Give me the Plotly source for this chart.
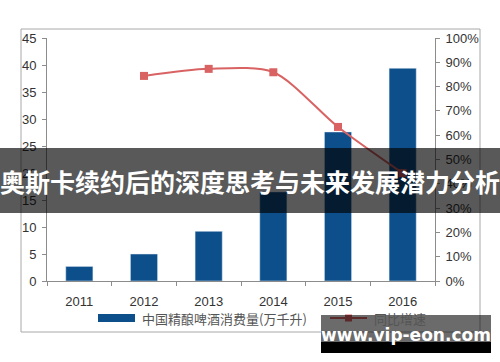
import plotly.graph_objects as go

years = ["2011", "2012", "2013", "2014", "2015", "2016"]
consumption = [2.7, 5.0, 9.2, 16.5, 27.6, 39.4]          # 万千升
growth_years = ["2012", "2013", "2014", "2015", "2016"]
growth = [0.844, 0.873, 0.859, 0.634, 0.444]            # 同比增速

bar_name = "中国精酿啤酒消费量(万千升)"
line_name = "同比增速"
title_text = "奥斯卡续约后的深度思考与未来发展潜力分析"
watermark = "www.vip-eon.com"

W, H = 500, 362
L, R, T, B = 47, 65, 38, 81
PW, PH = W - L - R, H - T - B


def px(x):
    return (x - L) / PW


def py(y):
    return (H - B - y) / PH


BAR = "#0d4f8b"
LINE = "#d96262"
FONT = "Liberation Sans, Arial, Noto Sans CJK SC"

fig = go.Figure()
fig.add_trace(go.Bar(x=years, y=consumption, marker_color=BAR, width=0.42,
                     name=bar_name, showlegend=False))
fig.add_trace(go.Scatter(x=growth_years, y=growth, yaxis="y2", mode="lines+markers",
                         line=dict(color=LINE, width=2, shape="spline", smoothing=0.8),
                         marker=dict(symbol="square", size=8, color=LINE),
                         name=line_name, showlegend=False))

axis_common = dict(showline=True, linecolor="#8c8c8c", linewidth=1, ticks="outside",
                   ticklen=4, tickcolor="#8c8c8c", showgrid=False, zeroline=False,
                   tickfont=dict(family=FONT, size=13, color="#333333"))

fig.update_layout(
    width=W, height=H, margin=dict(l=L, r=R, t=T, b=B),
    paper_bgcolor="white", plot_bgcolor="white",
    xaxis=dict(**axis_common, type="category", range=[-0.5, 5.5], tickson="boundaries",
               ticklabelstandoff=8),
    yaxis=dict(**axis_common, range=[0, 45], dtick=5, ticklabelstandoff=3),
    yaxis2=dict(**axis_common, range=[0, 1], dtick=0.1, tickformat=".0%",
                overlaying="y", side="right", ticklabelstandoff=3),
    showlegend=False,
)

shapes = []
annotations = []

# outer frame
shapes.append(dict(type="rect", xref="paper", yref="paper",
                   x0=px(21), x1=px(480), y0=py(332), y1=py(29),
                   line=dict(color="#a8a8a8", width=1), layer="below"))

# legend: bar swatch + text
shapes.append(dict(type="rect", xref="paper", yref="paper",
                   x0=px(98), x1=px(135), y0=py(322), y1=py(314),
                   fillcolor=BAR, line=dict(width=0)))
annotations.append(dict(text=bar_name, xref="paper", yref="paper", x=px(140), y=py(318),
                        xanchor="left", yanchor="middle", showarrow=False,
                        font=dict(family="Noto Sans CJK SC", size=13, color="#555555")))
# legend: line swatch + text
shapes.append(dict(type="line", xref="paper", yref="paper",
                   x0=px(330), x1=px(367), y0=py(318), y1=py(318),
                   line=dict(color=LINE, width=2)))
shapes.append(dict(type="rect", xref="paper", yref="paper",
                   x0=px(345), x1=px(352), y0=py(321.5), y1=py(314.5),
                   fillcolor=LINE, line=dict(width=0)))
annotations.append(dict(text=line_name, xref="paper", yref="paper", x=px(372), y=py(318),
                        xanchor="left", yanchor="middle", showarrow=False,
                        font=dict(family="Noto Sans CJK SC", size=13, color="#555555")))

# title banner overlay
shapes.append(dict(type="rect", xref="paper", yref="paper",
                   x0=px(0), x1=px(500), y0=py(213), y1=py(148),
                   fillcolor="rgba(0,0,0,0.65)", line=dict(width=0), layer="above"))
annotations.append(dict(text="<b>" + title_text + "</b>", xref="paper", yref="paper",
                        x=px(250), y=py(181), xanchor="center", yanchor="middle",
                        showarrow=False,
                        font=dict(family="Noto Sans CJK SC", size=25, color="white")))

# watermark box
shapes.append(dict(type="rect", xref="paper", yref="paper",
                   x0=px(321), x1=px(491), y0=py(342), y1=py(315),
                   fillcolor="rgba(0,0,0,0.58)", line=dict(width=0), layer="above"))
shapes.append(dict(type="rect", xref="paper", yref="paper",
                   x0=px(321), x1=px(491), y0=py(353), y1=py(342),
                   fillcolor="black", line=dict(width=0), layer="above"))
annotations.append(dict(text="<b>" + watermark + "</b>", xref="paper", yref="paper",
                        x=px(406), y=py(335), xanchor="center", yanchor="middle",
                        showarrow=False,
                        font=dict(family="DejaVu Sans, Liberation Sans", size=17, color="white")))

fig.update_layout(shapes=shapes, annotations=annotations)
fig.write_html("out.html")
